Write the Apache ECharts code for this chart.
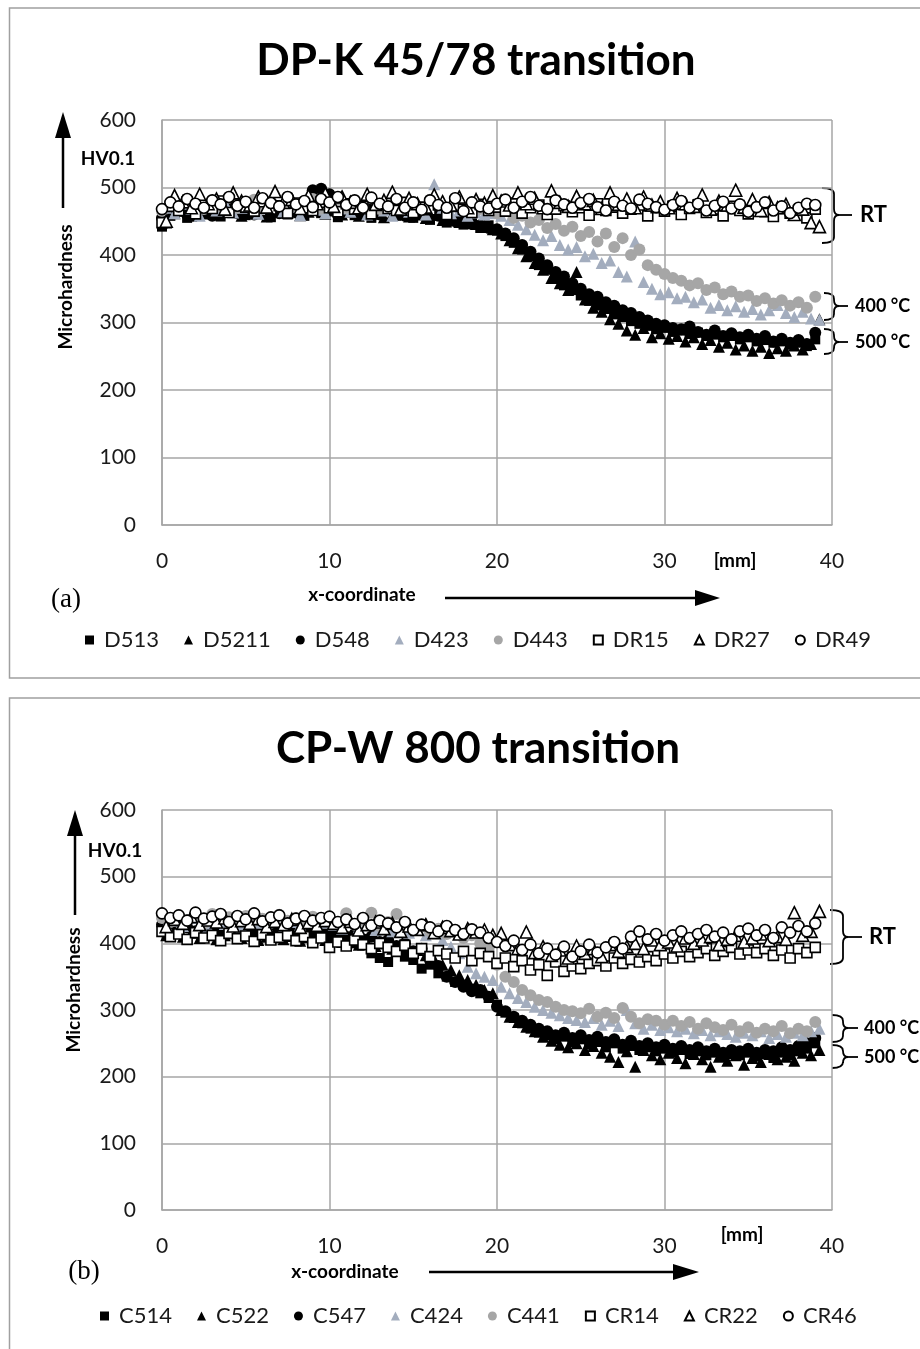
<!DOCTYPE html>
<html>
<head>
<meta charset="utf-8">
<script src="https://cdn.jsdelivr.net/npm/echarts@6/dist/echarts.min.js"></script>
<style>
html, body { margin: 0; padding: 0; background: #fff; }
#main { width: 920px; height: 1349px; }
</style>
</head>
<body>
<div id="main"></div>
<script>
// measurement positions [mm]
var xEven = [0,0.5,1,1.5,2,2.5,3,3.5,4,4.5,
  5,5.5,6,6.5,7,7.5,8,8.5,9,9.5,
  10,10.5,11,11.5,12,12.5,13,13.5,14,14.5,
  15,15.5,16,16.5,17,17.5,18,18.5,19,19.5,
  20,20.5,21,21.5,22,22.5,23,23.5,24,24.5,
  25,25.5,26,26.5,27,27.5,28,28.5,29,29.5,
  30,30.5,31,31.5,32,32.5,33,33.5,34,34.5,
  35,35.5,36,36.5,37,37.5,38,38.5,39];
var xOdd = [0.25,0.75,1.25,1.75,2.25,2.75,3.25,3.75,4.25,4.75,
  5.25,5.75,6.25,6.75,7.25,7.75,8.25,8.75,9.25,9.75,
  10.25,10.75,11.25,11.75,12.25,12.75,13.25,13.75,14.25,14.75,
  15.25,15.75,16.25,16.75,17.25,17.75,18.25,18.75,19.25,19.75,
  20.25,20.75,21.25,21.75,22.25,22.75,23.25,23.75,24.25,24.75,
  25.25,25.75,26.25,26.75,27.25,27.75,28.25,28.75,29.25,29.75,
  30.25,30.75,31.25,31.75,32.25,32.75,33.25,33.75,34.25,34.75,
  35.25,35.75,36.25,36.75,37.25,37.75,38.25,38.75,39.25];

var xTicks = [0, 10, 20, 30, 40];
var yTicks = [0, 100, 200, 300, 400, 500, 600];

// (a) DP-K 45/78, HV0.1
var D513 = [442,458,464,455,468,460,472,457,463,470,
  459,466,461,456,467,460,464,458,470,462,
  468,456,463,459,466,455,461,468,458,463,
  455,460,452,458,448,452,445,448,440,444,
  436,428,418,408,398,385,378,365,355,348,
  340,332,325,320,312,308,302,298,295,290,
  292,286,288,283,285,280,282,278,280,275,
  278,272,274,270,272,267,270,265,275];
var D5211 = [448,462,468,458,470,464,460,471,466,458,
  468,462,457,469,463,466,459,464,470,461,
  466,460,465,458,462,467,456,461,464,457,
  460,455,462,452,456,449,451,446,443,438,
  432,422,410,398,388,378,366,358,348,375,
  334,322,316,305,298,288,282,292,278,284,
  276,280,272,278,268,274,264,270,260,266,
  258,264,255,262,258,266,260,268,305];
var D548 = [455,465,470,460,472,466,458,470,475,462,
  468,460,473,467,462,470,463,468,496,498,
  490,470,466,472,463,468,460,470,465,458,
  466,461,468,458,455,450,452,446,444,440,
  438,432,425,415,405,395,385,375,368,358,
  350,342,338,330,325,318,314,308,303,298,
  296,292,290,294,286,282,288,280,284,278,
  282,276,280,272,276,270,274,268,285];
var D423 = [470,462,476,468,458,472,466,478,463,470,
  474,461,468,477,465,471,459,473,467,462,
  475,469,464,476,460,471,466,458,472,464,
  468,460,505,470,462,466,458,463,460,462,
  458,452,445,438,430,422,428,415,408,412,
  398,402,388,392,375,368,420,360,350,342,
  345,336,338,330,334,322,326,318,324,316,
  320,312,318,326,314,308,316,306,304];
var D443 = [465,478,470,482,474,468,480,472,485,470,
  476,482,468,479,473,486,471,477,483,469,
  475,481,470,478,472,484,468,476,480,471,
  477,469,482,474,470,479,466,473,468,470,
  462,466,455,458,448,452,440,446,436,442,
  428,434,420,432,412,425,400,408,385,378,
  372,366,362,355,358,348,352,342,346,338,
  340,332,336,328,333,325,330,322,338];
var DR15 = [448,472,466,478,461,474,469,480,463,476,
  471,465,479,468,473,462,477,470,466,478,
  470,464,476,468,472,461,475,469,466,478,
  463,471,467,474,460,472,468,463,475,466,
  471,465,477,462,470,474,460,468,473,464,
  470,459,476,466,471,462,468,474,458,470,
  465,472,460,469,474,463,468,458,472,466,
  461,470,464,457,469,462,466,455,468];
var DR27 = [450,488,479,470,490,476,483,468,492,480,
  474,486,471,494,478,482,469,488,476,491,
  472,486,478,470,490,475,481,493,468,484,
  476,471,489,479,474,486,470,482,477,488,
  480,474,492,476,484,470,495,478,472,487,
  476,481,469,492,475,483,470,486,474,479,
  470,484,476,472,489,468,480,474,496,471,
  482,466,478,470,475,460,468,448,442];
var DR49 = [468,478,472,483,476,470,481,475,486,473,
  479,470,484,477,472,486,475,480,471,483,
  478,486,474,481,470,485,476,472,483,470,
  478,467,481,474,470,484,465,478,472,469,
  476,482,470,479,486,473,468,481,475,470,
  477,483,471,466,479,473,469,482,476,471,
  467,474,480,470,476,466,473,479,469,475,
  464,471,478,466,472,462,470,476,474];

// (b) CP-W 800, HV0.1
var C514 = [420,426,415,424,418,412,422,416,420,414,
  418,412,420,414,417,410,416,412,408,414,
  410,404,408,400,398,385,378,372,388,380,
  375,362,368,355,350,342,338,332,325,318,
  308,296,288,280,272,266,262,256,260,252,
  256,248,252,244,250,242,246,240,244,238,
  242,236,240,234,238,232,236,230,234,232,
  236,230,234,228,236,232,238,242,250];
var C522 = [412,418,410,416,408,414,406,412,415,408,
  412,405,410,414,406,411,404,409,412,405,
  408,402,406,398,402,396,400,392,396,388,
  390,382,376,368,360,352,345,338,330,325,
  300,290,282,275,268,260,254,248,244,250,
  240,246,236,230,222,238,215,240,232,226,
  236,228,220,234,226,215,230,224,232,218,
  228,222,234,226,230,224,236,232,240];
var C547 = [428,420,432,424,418,430,422,426,419,428,
  421,425,418,427,420,424,416,422,418,420,
  415,418,410,414,406,410,402,405,396,400,
  388,392,378,366,350,342,335,328,330,320,
  305,298,290,284,278,272,268,262,266,258,
  262,255,260,252,256,248,254,246,250,244,
  248,242,246,240,244,238,242,236,240,238,
  242,236,240,238,244,240,246,250,258];
var C424 = [428,434,426,438,430,424,436,429,433,425,
  437,430,427,435,424,432,428,436,426,431,
  428,422,432,424,430,420,426,418,424,416,
  420,412,418,405,395,385,365,355,350,345,
  335,325,318,312,305,300,296,292,288,285,
  282,288,278,284,276,300,280,272,278,270,
  274,268,272,265,270,262,268,264,260,266,
  262,268,258,264,260,266,262,268,272];
var C441 = [438,432,442,435,440,430,444,436,439,433,
  441,435,437,431,443,434,438,432,440,434,
  436,430,445,428,434,446,426,432,444,428,
  420,425,418,422,414,420,408,412,400,392,
  368,350,342,330,322,315,312,305,300,298,
  295,302,290,296,288,303,290,280,286,284,
  278,284,276,282,272,280,274,270,278,268,
  274,266,272,268,276,265,272,268,282];
var CR14 = [418,410,414,406,416,408,412,404,415,407,
  411,403,413,405,409,412,404,410,401,408,
  394,402,396,405,398,392,400,394,388,397,
  385,392,380,389,384,378,388,374,385,380,
  370,378,365,374,360,368,352,372,358,366,
  362,370,374,366,378,370,376,372,380,374,
  384,378,388,380,386,392,382,388,394,384,
  390,386,392,382,390,378,392,386,394];
var CR22 = [425,436,430,440,428,435,432,438,426,434,
  430,437,425,433,428,436,424,431,427,434,
  430,424,433,420,428,432,422,430,418,426,
  421,428,416,424,419,414,422,417,420,412,
  415,398,392,417,386,395,382,390,378,396,
  385,392,380,398,388,395,400,392,405,398,
  402,396,408,400,405,410,398,406,412,402,
  408,414,404,410,406,446,412,418,448];
var CR46 = [445,438,442,434,446,437,440,444,432,441,
  436,445,433,439,442,430,437,441,434,438,
  440,432,436,429,438,427,434,430,424,432,
  420,428,424,418,426,420,414,421,416,408,
  402,396,404,390,398,385,392,383,395,380,
  388,398,386,394,402,392,410,418,406,414,
  404,412,418,408,414,420,410,416,406,418,
  422,412,420,408,424,416,426,418,430];

var FONT = 'Lato, "Open Sans", sans-serif';
var GRIDC = '#a6a6a6';

// marker looks: [symbol, size, fill, border]
var looks = [
  ['rect', 10, '#000000', null],
  ['triangle', 12, '#000000', null],
  ['circle', 12, '#000000', null],
  ['triangle', 12, '#a3adbe', null],
  ['circle', 12, '#a6a6a6', null],
  ['rect', 10, '#ffffff', '#000000'],
  ['triangle', 12, '#ffffff', '#000000'],
  ['circle', 11, '#ffffff', '#000000']
];

var setA = [['D513', xEven, D513], ['D5211', xOdd, D5211], ['D548', xEven, D548],
  ['D423', xOdd, D423], ['D443', xEven, D443], ['DR15', xEven, DR15],
  ['DR27', xOdd, DR27], ['DR49', xEven, DR49]];
var setB = [['C514', xEven, C514], ['C522', xOdd, C522], ['C547', xEven, C547],
  ['C424', xOdd, C424], ['C441', xEven, C441], ['CR14', xEven, CR14],
  ['CR22', xOdd, CR22], ['CR46', xEven, CR46]];

function makeSeries(set, idx) {
  return set.map(function (s, k) {
    var lk = looks[k];
    return {
      name: s[0],
      type: 'scatter',
      xAxisIndex: idx,
      yAxisIndex: idx,
      symbol: lk[0],
      symbolSize: lk[1],
      itemStyle: {
        color: lk[2],
        borderColor: lk[3] || lk[2],
        borderWidth: lk[3] ? 1.6 : 0,
        opacity: 1
      },
      emphasis: { disabled: true },
      data: s[1].map(function (x, i) { return [x, s[2][i]]; })
    };
  });
}

function xAx(idx) {
  return {
    type: 'value', gridIndex: idx, min: xTicks[0], max: xTicks[xTicks.length - 1], interval: 10,
    axisLine: { show: true, lineStyle: { color: GRIDC, width: 1.5 } },
    axisTick: { show: false },
    axisLabel: { fontSize: 21, color: '#1a1a1a', fontFamily: FONT, margin: 26 },
    splitLine: { show: true, lineStyle: { color: GRIDC, width: 1.5 } }
  };
}
function yAx(idx) {
  return {
    type: 'value', gridIndex: idx, min: yTicks[0], max: yTicks[yTicks.length - 1], interval: 100,
    axisLine: { show: true, lineStyle: { color: GRIDC, width: 1.5 } },
    axisTick: { show: false },
    axisLabel: { fontSize: 21, color: '#1a1a1a', fontFamily: FONT, margin: 26 },
    splitLine: { show: true, lineStyle: { color: GRIDC, width: 1.5 } }
  };
}

function txt(x, y, s, font, align, rot) {
  return {
    type: 'text', x: x, y: y, rotation: rot || 0, silent: true,
    style: { text: s, font: font, fill: '#000', textAlign: align || 'center', textVerticalAlign: 'middle' }
  };
}
function line(x1, y1, x2, y2, w) {
  return { type: 'line', silent: true, shape: { x1: x1, y1: y1, x2: x2, y2: y2 },
    style: { stroke: '#000', lineWidth: w || 2.5 } };
}
function curve(x1, y1, cx, cy, x2, y2) {
  return { type: 'bezierCurve', silent: true,
    shape: { x1: x1, y1: y1, cpx1: cx, cpy1: cy, x2: x2, y2: y2 },
    style: { stroke: '#000', lineWidth: 1.8, fill: null } };
}
// curly brace opening to the left, tip pointing right
function brace(x0, xv, xt, y1, ym, y2) {
  var r = 6;
  return [
    curve(x0, y1, xv, y1, xv, y1 + r),
    line(xv, y1 + r, xv, ym - r, 1.8),
    curve(xv, ym - r, xv, ym, xv + 5, ym),
    line(xv + 5, ym, xt, ym, 1.8),
    curve(xv, ym + r, xv, ym, xv + 5, ym),
    line(xv, ym + r, xv, y2 - r, 1.8),
    curve(xv, y2 - r, xv, y2, x0, y2)
  ];
}
function head(pts) {
  return { type: 'polygon', silent: true, shape: { points: pts }, style: { fill: '#000' } };
}

var B = 'bold 19px ' + FONT;
var graphics = [
  // panel frames
  { type: 'rect', silent: true, shape: { x: 9.5, y: 8, width: 1000, height: 670 },
    style: { stroke: '#a0a0a0', lineWidth: 1.5, fill: null } },
  { type: 'rect', silent: true, shape: { x: 9.5, y: 698, width: 1000, height: 700 },
    style: { stroke: '#a0a0a0', lineWidth: 1.5, fill: null } },

  // (a) annotations
  line(63, 208, 63, 132), head([[55, 138], [71, 138], [63, 112]]),
  txt(108, 159, 'HV0.1', B),
  txt(66, 287, 'Microhardness', B, 'center', Math.PI / 2),
  txt(362, 595, 'x-coordinate', B),
  line(445, 598, 700, 598), head([[695, 590], [720, 598], [695, 606]]),
  txt(735, 561, '[mm]', B),
  txt(66, 600, '(a)', '27px "Liberation Serif", "Times New Roman", serif'),
  txt(860, 215, 'RT', 'bold 22px ' + FONT, 'left'),
  txt(855, 306, '400 °C', 'bold 18px ' + FONT, 'left'),
  txt(855, 342, '500 °C', 'bold 18px ' + FONT, 'left'),

  // (b) annotations
  line(75, 915, 75, 830), head([[67, 836], [83, 836], [75, 810]]),
  txt(115, 851, 'HV0.1', B),
  txt(74, 990, 'Microhardness', B, 'center', Math.PI / 2),
  txt(345, 1272, 'x-coordinate', B),
  line(429, 1272, 678, 1272), head([[673, 1264], [699, 1272], [673, 1280]]),
  txt(742, 1235, '[mm]', B),
  txt(84, 1272, '(b)', '27px "Liberation Serif", "Times New Roman", serif'),
  txt(869, 937, 'RT', 'bold 22px ' + FONT, 'left'),
  txt(864, 1028, '400 °C', 'bold 18px ' + FONT, 'left'),
  txt(864, 1057, '500 °C', 'bold 18px ' + FONT, 'left')
].concat(
  brace(822, 834, 852, 188, 215, 243),
  brace(824, 834, 848, 293, 306, 320),
  brace(824, 834, 848, 329, 342, 354),
  brace(830, 843, 862, 910, 937, 964),
  brace(832, 843, 858, 1015, 1028, 1042),
  brace(832, 843, 858, 1045, 1057, 1068)
);

function legendOf(set, left, top) {
  return {
    data: set.map(function (s) { return s[0]; }),
    left: left, top: top, orient: 'horizontal',
    itemWidth: 9, itemHeight: 9, itemGap: 25,
    selectedMode: false,
    textStyle: { fontSize: 22, color: '#1a1a1a', fontFamily: FONT, padding: [0, 0, 0, 5] }
  };
}

var chart = echarts.init(document.getElementById('main'), null, { renderer: 'canvas' });
chart.setOption({
  backgroundColor: '#ffffff',
  animation: false,
  title: [
    { text: 'DP-K 45/78 transition', left: 471, top: 34, textAlign: 'center',
      textStyle: { fontSize: 44, fontWeight: 'bold', color: '#000', fontFamily: FONT } },
    { text: 'CP-W 800 transition', left: 473, top: 722, textAlign: 'center',
      textStyle: { fontSize: 44, fontWeight: 'bold', color: '#000', fontFamily: FONT } }
  ],
  grid: [
    { left: 162, top: 120, width: 670, height: 405, containLabel: false, outerBoundsMode: 'none' },
    { left: 162, top: 810, width: 670, height: 400, containLabel: false, outerBoundsMode: 'none' }
  ],
  xAxis: [xAx(0), xAx(1)],
  yAxis: [yAx(0), yAx(1)],
  legend: [legendOf(setA, 80, 624), legendOf(setB, 95, 1300)],
  tooltip: { show: false },
  series: makeSeries(setA, 0).concat(makeSeries(setB, 1)),
  graphic: graphics
});
</script>
</body>
</html>
